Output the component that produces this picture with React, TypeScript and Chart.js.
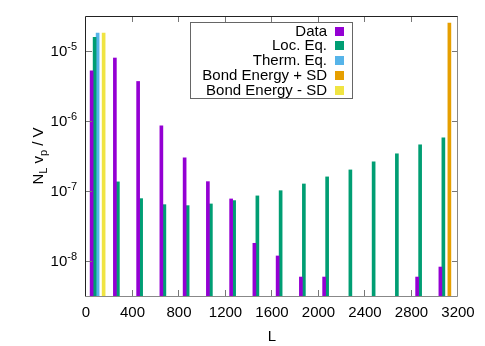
import React, { useEffect, useRef } from 'react';
import { Chart, registerables } from 'chart.js';

Chart.register(...registerables);

const FONT = '"Liberation Sans", Arial, Helvetica, sans-serif';

// Bin centres (L)
const binCenters = [100, 300, 500, 700, 900, 1100, 1300, 1500, 1700, 1900, 2100, 2300, 2500, 2700, 2900, 3100];

// Series values (N_L v_p / V)
const dataValues = [5.22e-6, 7.94e-6, 3.67e-6, 8.53e-7, 2.98e-7, 1.36e-7, 7.7e-8, 1.79e-8, 1.18e-8, 5.9e-9, 5.9e-9, null, null, null, 5.9e-9, 8.2e-9];
const locEqValues = [1.57e-5, 1.35e-7, 7.78e-8, 6.38e-8, 6.18e-8, 6.53e-8, 7.29e-8, 8.51e-8, 1.01e-7, 1.26e-7, 1.59e-7, 2.0e-7, 2.61e-7, 3.4e-7, 4.57e-7, 5.75e-7];
const thermEqValues = [1.81e-5, null, null, null, null, null, null, null, null, null, null, null, null, null, null, null];
const bondPlusValues = [null, null, null, null, null, null, null, null, null, null, null, null, null, null, null, 2.51e-5];
const bondMinusValues = [1.81e-5, null, null, null, null, null, null, null, null, null, null, null, null, null, null, null];

const seriesLabels = ['Data', 'Loc. Eq.', 'Therm. Eq.', 'Bond Energy + SD', 'Bond Energy - SD'];
const seriesColors = ['#9400d3', '#009e73', '#56b4e9', '#e69f00', '#f0e442'];
const seriesValues = [dataValues, locEqValues, thermEqValues, bondPlusValues, bondMinusValues];

// Axis ticks
const xTickValues = [0, 400, 800, 1200, 1600, 2000, 2400, 2800, 3200];
const xTickLabels = ['0', '400', '800', '1200', '1600', '2000', '2400', '2800', '3200'];
const yTickExponents = [-5, -6, -7, -8];
const yTickValues = [1e-5, 1e-6, 1e-7, 1e-8];
const xMin = 0;
const xMax = 3200;
const yMin = 3.162e-9;
const yMax = 3.162e-5;

const overlayPlugin = {
  id: 'gnuplotOverlay',
  afterDraw(chart: any) {
    const { ctx, chartArea: a, scales } = chart;
    const xs = scales.x;
    const ys = scales.y;
    ctx.save();

    // tick marks (inward)
    ctx.lineWidth = 1;
    ctx.strokeStyle = '#777';
    ctx.beginPath();
    for (const t of xTickValues) {
      if (t === xMin || t === xMax) continue;
      const px = Math.round(xs.getPixelForValue(t)) - 0.5;
      ctx.moveTo(px, a.bottom);
      ctx.lineTo(px, a.bottom - 6);
      ctx.moveTo(px, a.top);
      ctx.lineTo(px, a.top + 6);
    }
    for (const v of yTickValues) {
      const py = Math.round(ys.getPixelForValue(v)) + 0.5;
      ctx.moveTo(a.left, py);
      ctx.lineTo(a.left + 6, py);
      ctx.moveTo(a.right, py);
      ctx.lineTo(a.right - 6, py);
    }
    ctx.stroke();

    // border
    ctx.strokeStyle = '#222';
    ctx.beginPath();
    ctx.moveTo(a.left - 0.5, a.bottom);
    ctx.lineTo(a.left - 0.5, a.top + 0.5);
    ctx.lineTo(a.right, a.top + 0.5);
    ctx.stroke();
    ctx.strokeStyle = '#888';
    ctx.beginPath();
    ctx.moveTo(a.right - 0.5, a.top + 0.5);
    ctx.lineTo(a.right - 0.5, a.bottom + 0.5);
    ctx.lineTo(a.left - 1, a.bottom + 0.5);
    ctx.stroke();

    // y tick labels 10^e
    ctx.fillStyle = '#000';
    ctx.textBaseline = 'alphabetic';
    ctx.textAlign = 'left';
    yTickExponents.forEach((e, i) => {
      const py = ys.getPixelForValue(yTickValues[i]);
      ctx.font = `15px ${FONT}`;
      const wb = ctx.measureText('10').width;
      ctx.font = `11px ${FONT}`;
      const sup = String(e);
      const ws = ctx.measureText(sup).width;
      const x0 = 77 - wb - ws;
      const base = py + 5.4;
      ctx.font = `15px ${FONT}`;
      ctx.fillText('10', x0, base);
      ctx.font = `11px ${FONT}`;
      ctx.fillText(sup, x0 + wb, base - 6);
    });

    // y axis title: N_L v_p / V
    const parts: [string, boolean][] = [['N', false], ['L', true], [' v', false], ['p', true], [' / V', false]];
    ctx.save();
    ctx.translate(38, (a.top + a.bottom) / 2);
    ctx.rotate(-Math.PI / 2);
    let total = 0;
    const widths = parts.map(([t, sub]) => {
      ctx.font = `${sub ? 11 : 15}px ${FONT}`;
      const w = ctx.measureText(t).width;
      total += w;
      return w;
    });
    let cx = -total / 2;
    ctx.textBaseline = 'alphabetic';
    parts.forEach(([t, sub], i) => {
      ctx.font = `${sub ? 11 : 15}px ${FONT}`;
      ctx.fillText(t, cx, sub ? 9 : 5.4);
      cx += widths[i];
    });
    ctx.restore();

    // legend
    ctx.strokeStyle = '#666';
    ctx.strokeRect(190.5, 22.5, 162, 76);
    ctx.font = `15px ${FONT}`;
    ctx.textAlign = 'right';
    ctx.textBaseline = 'middle';
    chart.data.datasets.forEach((ds: any, i: number) => {
      const cy = 31 + 14.8 * i;
      ctx.fillStyle = '#000';
      ctx.fillText(ds.label, 327, cy + 0.5);
      ctx.fillStyle = ds.backgroundColor;
      ctx.fillRect(335, Math.round(cy - 4.5), 9, 9);
    });

    ctx.restore();
  },
};

export default function App() {
  const ref = useRef<HTMLCanvasElement | null>(null);

  useEffect(() => {
    document.body.style.margin = '0';
    const canvas = ref.current;
    if (!canvas) return;
    const datasets = seriesLabels.map((label, i) => ({
      label,
      data: binCenters.map((x, j) => ({ x, y: seriesValues[i][j] })),
      backgroundColor: seriesColors[i],
      borderWidth: 0,
      barThickness: 3,
    }));
    const chart = new Chart(canvas, {
      type: 'bar',
      data: { datasets } as any,
      options: {
        animation: false,
        responsive: false,
        devicePixelRatio: 1,
        layout: { padding: { left: 0, top: 16, right: 27, bottom: 0 } },
        plugins: { legend: { display: false }, tooltip: { enabled: false } },
        scales: {
          x: {
            type: 'linear',
            min: xMin,
            max: xMax,
            offset: false,
            grid: { display: false, drawTicks: false },
            border: { display: false },
            afterBuildTicks: (s: any) => {
              s.ticks = xTickValues.map((v) => ({ value: v }));
            },
            ticks: {
              autoSkip: false,
              maxRotation: 0,
              padding: 8,
              color: '#000',
              font: { family: FONT, size: 15 },
              callback: (v: any) => xTickLabels[xTickValues.indexOf(Number(v))] ?? '',
            },
            title: {
              display: true,
              text: 'L',
              color: '#000',
              font: { family: FONT, size: 15 },
              padding: { top: 0, bottom: 0 },
            },
            afterFit: (s: any) => {
              s.height = 50;
            },
          },
          y: {
            type: 'logarithmic',
            min: yMin,
            max: yMax,
            grid: { display: false, drawTicks: false },
            border: { display: false },
            ticks: { display: false },
            afterFit: (s: any) => {
              s.width = 86;
            },
          },
        },
      } as any,
      plugins: [overlayPlugin],
    });
    return () => chart.destroy();
  }, []);

  return (
    <div style={{ width: 485, height: 346 }}>
      <canvas ref={ref} width={485} height={346} style={{ display: 'block' }} />
    </div>
  );
}
